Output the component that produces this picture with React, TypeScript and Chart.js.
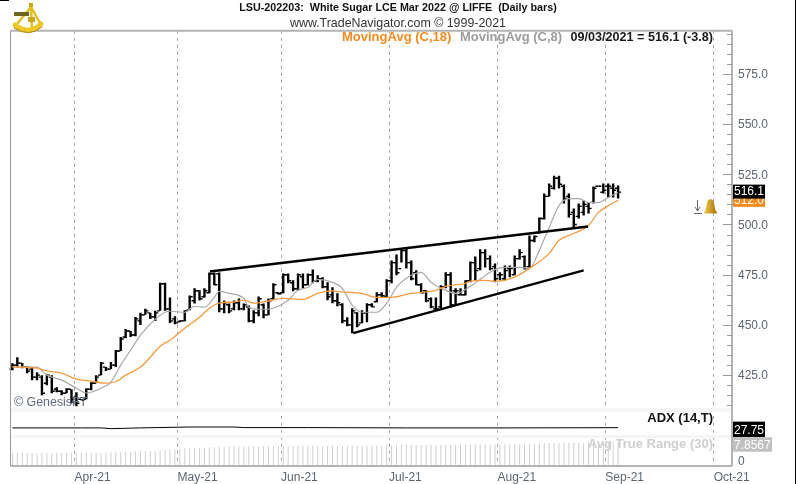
import React, { useEffect, useRef } from "react";
import { Chart, registerables } from "chart.js";

Chart.register(...registerables);

const titleText = "LSU-202203:  White Sugar LCE Mar 2022 @ LIFFE  (Daily bars)";
const subtitleText = "www.TradeNavigator.com © 1999-2021";

const monthLabels = ["Apr-21", "May-21", "Jun-21", "Jul-21", "Aug-21", "Sep-21", "Oct-21"];
const monthBarPositions = [12.63, 33.54, 54.56, 76.5, 98.5, 120.4, 142.4];
const priceTicks = [425, 450, 475, 500, 525, 550, 575];

const highs = [430.9,433.9,431,429.4,429,426.4,425,425.4,425,419,417.5,418.5,418,416.5,413,418.5,421.5,425,431.5,429,431.5,437.5,444,448,447,454,456,458,456,457,471,471,463.7,454.3,452.3,457.3,464.7,468.2,467.2,468.2,476.1,476.1,476.1,462.2,460.7,462.2,463.2,460.7,459.7,457.3,464.2,460.7,463.2,470.7,466.2,475.6,475.6,472.2,475.6,475.6,475.6,477.6,474.7,473.7,471.2,468.7,465.7,460.8,453.8,458.3,456.3,457.3,460.8,460.8,466.2,466.2,472.7,482.1,485.1,488.1,488.1,482.1,477.2,470.7,467.2,463.7,463.7,469.7,476.2,476.2,468.2,468.2,472.2,481.6,484.1,487.6,487.6,484.6,480.6,476.2,479.6,479.6,484.6,487.6,484.6,494.5,494.5,503.5,515.4,520.4,524.3,524.3,519.9,515.4,507.9,510.4,511.9,510.9,518.9,519.4,520.4,520.4,520.4,519.4];
const lows = [427.4,428.9,428.4,426,422.5,422.5,415,420,416,416.5,415,416,411,409.5,412.5,413,417.5,421,425,427,428,429,437,443.4,444,444.4,450,455,453,452,457,457,451,450.3,451.3,451.8,457.3,460.7,462.2,463.7,465.7,469.7,456.3,455.8,455.8,457.3,457.3,457.3,451.3,450.8,454.3,453.3,454.8,462.7,465.2,465.7,470.7,466.7,467.2,468.2,469.7,470.7,471.2,468.2,462.3,460.8,459.3,450.8,449.3,445.9,448.8,450.8,451.3,458.8,461.3,463.7,463.7,470.7,474.7,481.1,478.1,472.2,469.7,465.7,461.3,458.3,457.3,458.3,468.2,458.8,459.8,464.7,464.7,471.2,472.2,477.2,478.6,477.2,471.2,472.2,472.2,473.7,474.7,482.6,477.6,478.6,491.1,495.5,502.5,513.9,517.4,517.9,510.4,503.5,498,503,504.5,505.5,510.4,518.9,515.4,513.4,513.4,512.9];
const opens = [428,430,431,429,428,424,424,421,424,418,417,416,418,414,413,413,418,421,425,429,428,430,437,444,447,445,452,455,456,454,457,470.5,458,453,451.5,452,457.5,462,467,464,466,475.5,475.5,458,460,458,461,458,459,452,456,460,455,463,466,466,475,471,468,474,470,475,472,473,469,465,462,460,452,450,456,451,456,460,461.5,465,464,472,481,478,487,481,476,470,467,463,458,459,469,475,467,465,465,472,481,478,486,483,479,475,473,478,475,483,484,479,492,496,503,514,518,523,519,514,506,504,506,509,511,519,516,519,518,518];
const closes = [430,431,429,427,424,425,416,425,417,417,416,418,413,411,412.5,418,421,424,431,428,430,437,443,447,445,453,455,457,454,456,470.5,458,452,451,452,457,464,467,463,467,475.5,470,458,461,457,461,458,460,452,456,463,455,462,470,465.5,475,472,468,475,470,475,472,473,469,464,462,461,452,450,457,450,456,460,459,465,464.5,472,481,476,487,481,473,470,466,462,459,458,469,475,460,467,465,472,481,477,486,483,478,473,475,477,478,483,486,478,492,494,503,514,519,523,520,513,505,500,509,510,508,518,519,517,519,517,516.1];

const ma18Bars = [0,5,7,10,13,16,19,21,23,26,28,30,32,35,38,40,42,45,47,49,52,55,59,62,65,67,71,74,77,81,84,86,88,92,93,96,98,102,105,109,111,114,117,119,121,123];
const ma18Values = [429.1,428.5,427.1,426,423,422,421,421.7,425,429,433.9,439.4,442.4,448.3,453.8,458.3,460.9,461.4,462.3,460.8,461.9,463.2,462.7,465.7,466.9,466.4,465.7,463.7,463.7,465.7,466.4,467.2,469.2,470.7,471.8,472.2,471.7,473.8,478.1,485.6,492.1,495.5,499.5,506,509.4,512];
const ma8Bars = [0,5,7,10,13,15,18,20,22,24,26,29,31,32,35,37,39,41,42,44,47,48,50,52,54,56,58,60,62,65,67,69,71,74,76,78,81,83,85,88,90,93,95,98,100,103,105,107,109,111,113,115,117,119,121,123];
const ma8Values = [429.1,429,425,422.5,418.5,416.1,418.5,421.5,430,437.4,444.9,452.8,456.3,456.8,456.3,459.3,458.8,463.7,466.7,465.7,463.2,458.8,457.8,457.8,459.3,462.3,467.2,468.7,472.7,471.2,468.2,459.8,456.3,456.3,460.8,468.7,474.7,476.2,471.2,467.2,465.7,469.2,472.7,477.6,478.6,478.6,478.1,487.1,498.5,509.4,512.9,512.9,510.9,510.9,513.4,515.9];

const upperTrendBars = [40.1, 116.9];
const upperTrendPrices = [476.6, 499];
const lowerTrendBars = [69.2, 116];
const lowerTrendPrices = [445.9, 477.1];

const adxBars = [0,14,18,20,26,36,45,47,60,80,100,123];
const adxValues = [27,27,27,24.5,27,30,30,28,28,27,27,27.75];

const atrValues = [4.3,4.3,4.3,4.3,4.3,4.3,4.3,4.3,4.3,4.3,4.3,4.4,4.4,4.4,4.4,4.4,4.4,4.4,4.4,4.5,4.5,4.6,4.7,4.8,4.8,4.9,4.9,5,5,5.1,5.3,5.4,5.6,5.7,5.8,5.9,6,6,6.1,6.1,6.2,6.3,6.4,6.4,6.5,6.5,6.5,6.5,6.5,6.6,6.6,6.6,6.6,6.7,6.7,6.7,6.7,6.7,6.7,6.7,6.7,6.7,6.7,6.7,6.7,6.7,6.7,6.8,6.8,6.8,6.8,6.8,6.8,6.8,6.8,6.8,6.9,6.9,6.9,7,7,7,7,7,7,7,7,7,7.1,7.1,7.1,7.1,7.1,7.1,7.2,7.2,7.2,7.2,7.2,7.2,7.3,7.3,7.3,7.3,7.3,7.4,7.4,7.5,7.6,7.7,7.7,7.7,7.8,7.8,7.8,7.8,7.8,7.8,7.8,7.8,7.8,7.8,7.85,7.8567];

const lastClose = 516.1;
const lastMa18 = 512.0;
const lastAdx = 27.75;
const lastAtr = 7.8567;
const plotLeftBar = -0.57;
const legendEntries = ["MovingAvg (C,18)", "MovingAvg (C,8)", "09/03/2021 = 516.1 (-3.8)"];

const FONT = '"Liberation Sans", Arial, sans-serif';
const AXIS_GREY = "#b4b4b4";
const LABEL = "#5d6570";
const ORANGE = "#f58a1f";

function zip(xs: number[], ys: number[], dx = 0) {
  return xs.map((x, i) => ({ x: x + dx, y: ys[i] }));
}

function drawSextant(c: CanvasRenderingContext2D) {
  c.save();
  c.lineCap = "round";
  c.strokeStyle = "#e2bd22";
  c.lineWidth = 2.4;
  c.beginPath();
  c.moveTo(31, 7);
  c.lineTo(17, 24);
  c.moveTo(31, 7);
  c.lineTo(40, 23);
  c.moveTo(31, 5);
  c.lineTo(32, 31);
  c.stroke();
  c.lineWidth = 5;
  c.strokeStyle = "#ecc728";
  c.beginPath();
  c.moveTo(15, 25);
  c.quadraticCurveTo(29, 36, 41, 24);
  c.stroke();
  c.lineWidth = 1;
  c.strokeStyle = "#a5861a";
  c.beginPath();
  c.moveTo(14, 28);
  c.quadraticCurveTo(29, 38, 42, 27);
  c.stroke();
  c.fillStyle = "#6f6420";
  c.fillRect(14, 12, 15, 4);
  c.fillStyle = "#c9a81e";
  c.fillRect(29, 3, 4, 4);
  c.fillRect(28, 17, 7, 5);
  c.restore();
}

function drawBell(c: CanvasRenderingContext2D) {
  c.save();
  c.strokeStyle = "#666666";
  c.lineWidth = 1;
  c.beginPath();
  c.moveTo(697.5, 200);
  c.lineTo(697.5, 211);
  c.moveTo(695, 207);
  c.lineTo(697.5, 211);
  c.lineTo(700, 207);
  c.moveTo(694, 213.5);
  c.lineTo(702, 213.5);
  c.stroke();
  const g = c.createLinearGradient(704, 0, 717, 0);
  g.addColorStop(0, "#f3c84b");
  g.addColorStop(1, "#a86f0c");
  c.fillStyle = g;
  c.beginPath();
  c.moveTo(710.5, 199);
  c.quadraticCurveTo(714.5, 200, 714.5, 206);
  c.quadraticCurveTo(715, 211, 717.5, 213.5);
  c.lineTo(703.5, 213.5);
  c.quadraticCurveTo(706, 211, 706.5, 206);
  c.quadraticCurveTo(706.5, 200, 710.5, 199);
  c.fill();
  c.restore();
}

const chartDecorations = {
  id: "chartDecorations",
  beforeDatasetsDraw(chart: any) {
    const c = chart.ctx as CanvasRenderingContext2D;
    const { right } = chart.chartArea;
    const { x, yAdx, yAtr } = chart.scales;
    const left = x.getPixelForValue(plotLeftBar);
    c.save();
    c.fillStyle = "#f5f5f5";
    c.fillRect(left, yAdx.top - 2, right - left, 4);
    c.fillRect(left, yAtr.top - 1, right - left, 3);
    c.restore();
  },
  afterDraw(chart: any) {
    const c = chart.ctx as CanvasRenderingContext2D;
    const { right, top, bottom } = chart.chartArea;
    const { x, y, yAdx, yAtr } = chart.scales;
    const left = Math.round(x.getPixelForValue(plotLeftBar)) + 0.5;
    c.save();
    // frame
    c.strokeStyle = AXIS_GREY;
    c.lineWidth = 2;
    c.beginPath();
    c.moveTo(left, top);
    c.lineTo(right, top);
    c.moveTo(right, top);
    c.lineTo(right, bottom);
    c.moveTo(left, bottom);
    c.lineTo(right, bottom);
    c.stroke();
    c.lineWidth = 1;
    c.strokeStyle = "#9a9a9a";
    c.beginPath();
    c.moveTo(left, top);
    c.lineTo(left, bottom);
    c.stroke();

    // inside tick marks
    c.strokeStyle = "#9a9a9a";
    c.lineWidth = 1;
    c.beginPath();
    for (let v = 410; v <= 595; v += 5) {
      const py = Math.round(y.getPixelForValue(v)) + 0.5;
      c.moveTo(right - (v % 25 === 0 ? 9 : 5), py);
      c.lineTo(right, py);
    }
    c.stroke();

    // legend
    c.textBaseline = "middle";
    c.textAlign = "left";
    c.font = `bold 13px ${FONT}`;
    c.fillStyle = ORANGE;
    c.fillText(legendEntries[0], 342, 37.5);
    c.fillStyle = "#9b9b9b";
    c.fillText(legendEntries[1], 460, 37.5);
    c.fillStyle = "#1a1a1a";
    c.textAlign = "right";
    c.font = `bold 12.6px ${FONT}`;
    c.fillText(legendEntries[2], 713, 37.5);

    // copyright and panel names
    c.textAlign = "left";
    c.font = `12.4px ${FONT}`;
    c.fillStyle = "#5f6b7a";
    c.fillText("© GenesisFT", 14, 403);
    c.textAlign = "right";
    c.font = `bold 13px ${FONT}`;
    c.fillStyle = "#111111";
    c.fillText("ADX (14,T)", 713, 418);
    c.fillStyle = "#cfcfcf";
    c.fillText("Avg True Range (30)", 713, 444);

    // value boxes
    c.font = `12px ${FONT}`;
    c.textAlign = "left";
    const box = (yc: number, h: number, w: number, bg: string, text: string, fg: string, dy = 0.5) => {
      c.fillStyle = bg;
      c.fillRect(right + 1, yc - h / 2, w, h);
      c.fillStyle = fg;
      c.fillText(text, right + 2, yc + dy);
    };
    box(y.getPixelForValue(lastMa18), 13, 32, ORANGE, lastMa18.toFixed(1), "#ffffff");
    box(y.getPixelForValue(lastClose) - 0.5, 14, 32, "#000000", lastClose.toFixed(1), "#ffffff");
    box(yAdx.getPixelForValue(lastAdx) + 1.7, 15.5, 32, "#000000", lastAdx.toFixed(2), "#ffffff", 1);
    box(yAtr.getPixelForValue(lastAtr) + 2, 14.5, 39, "#c0c0c0", lastAtr.toFixed(4), "#ffffff", 1);
    c.fillStyle = LABEL;
    c.fillText("0", 738, 461.5);

    drawSextant(c);
    drawBell(c);

    // screenshot edge marks
    c.fillStyle = "#000000";
    c.fillRect(0, 0, 9, 1);
    c.fillRect(795, 0, 1, 484);
    c.restore();
  },
};

const sideWidth = (scale: any) => {
  scale.width = 64;
};

export default function App() {
  const ref = useRef<HTMLCanvasElement | null>(null);
  useEffect(() => {
    document.body.style.margin = "0";
    document.body.style.background = "#ffffff";
    const barIdx = highs.map((_, i) => i);
    const chart = new Chart(ref.current as HTMLCanvasElement, {
      type: "bar",
      data: {
        datasets: [
          {
            type: "bar",
            data: atrValues.map((v, i) => ({ x: i, y: v })),
            yAxisID: "yAtr",
            backgroundColor: "#cfcfcf",
            barThickness: 1,
            inflateAmount: 0,
            grouped: false,
            order: 6,
          },
          {
            type: "line",
            data: zip(adxBars, adxValues),
            yAxisID: "yAdx",
            borderColor: "#000000",
            borderWidth: 1,
            pointRadius: 0,
            order: 5,
          },
          {
            type: "bar",
            data: barIdx.map((i) => ({ x: i, y: [lows[i], highs[i]] })),
            yAxisID: "y",
            backgroundColor: "#000000",
            barThickness: 2.4,
            inflateAmount: 0,
            grouped: false,
            order: 4,
          },
          {
            type: "line",
            data: zip(barIdx, opens, -0.35),
            yAxisID: "y",
            showLine: false,
            pointStyle: "line",
            pointRadius: 1.3,
            pointBorderWidth: 1.4,
            pointBorderColor: "#000000",
            order: 4,
          },
          {
            type: "line",
            data: zip(barIdx, closes, 0.35),
            yAxisID: "y",
            showLine: false,
            pointStyle: "line",
            pointRadius: 1.3,
            pointBorderWidth: 1.4,
            pointBorderColor: "#000000",
            order: 4,
          },
          {
            type: "line",
            data: zip(ma8Bars, ma8Values),
            yAxisID: "y",
            borderColor: "#a8a8a8",
            borderWidth: 1.2,
            cubicInterpolationMode: "monotone",
            pointRadius: 0,
            order: 2,
          },
          {
            type: "line",
            data: zip(ma18Bars, ma18Values),
            yAxisID: "y",
            borderColor: "#f79a3e",
            borderWidth: 1.3,
            cubicInterpolationMode: "monotone",
            pointRadius: 0,
            order: 1,
          },
          {
            type: "line",
            data: zip(upperTrendBars, upperTrendPrices),
            yAxisID: "y",
            borderColor: "#000000",
            borderWidth: 2.4,
            pointRadius: 0,
            order: 0,
          },
          {
            type: "line",
            data: zip(lowerTrendBars, lowerTrendPrices),
            yAxisID: "y",
            borderColor: "#000000",
            borderWidth: 2.4,
            pointRadius: 0,
            order: 0,
          },
        ],
      } as any,
      options: {
        responsive: false,
        animation: false,
        layout: { padding: 0 },
        plugins: {
          legend: { display: false },
          tooltip: { enabled: false },
          title: {
            display: true,
            text: titleText,
            color: "#111111",
            font: { family: FONT, size: 10.75, weight: "bold" },
            padding: { top: 1.5, bottom: 1.5 },
          },
          subtitle: {
            display: true,
            text: subtitleText,
            color: "#333333",
            font: { family: FONT, size: 12.4, weight: "normal" },
            padding: { top: 0, bottom: 0 },
          },
        },
        scales: {
          x: {
            type: "linear",
            min: -1.42,
            max: 146.13,
            offset: false,
            afterBuildTicks: (s: any) => {
              s.ticks = monthBarPositions.map((v) => ({ value: v }));
            },
            afterFit: (s: any) => {
              s.height = 18;
            },
            grid: { color: "#a2a2a2", offset: false, drawTicks: false, lineWidth: 1 },
            border: { display: false, dash: [3, 4] },
            ticks: {
              align: "start",
              autoSkip: false,
              maxRotation: 0,
              padding: 4,
              color: LABEL,
              font: { family: FONT, size: 12 },
              callback: (_: any, i: number) => monthLabels[i],
            },
          },
          y: {
            type: "linear",
            position: "right",
            stack: "panels",
            stackWeight: 380,
            weight: 0,
            min: 407.6,
            max: 596.4,
            afterBuildTicks: (s: any) => {
              s.ticks = priceTicks.map((v) => ({ value: v }));
            },
            afterFit: sideWidth,
            grid: { display: false, drawTicks: false },
            border: { display: false },
            ticks: {
              padding: 6,
              labelOffset: 1,
              color: LABEL,
              font: { family: FONT, size: 12 },
              callback: (v: any) => Number(v).toFixed(1),
            },
          },
          yAdx: {
            type: "linear",
            position: "right",
            stack: "panels",
            stackWeight: 26,
            weight: 1,
            min: 0,
            max: 86,
            afterFit: sideWidth,
            grid: { display: false, drawTicks: false },
            border: { display: false },
            ticks: { display: false },
          },
          yAtr: {
            type: "linear",
            position: "right",
            stack: "panels",
            stackWeight: 30,
            weight: 2,
            min: 0,
            max: 10,
            afterFit: sideWidth,
            grid: { display: false, drawTicks: false },
            border: { display: false },
            ticks: { display: false },
          },
        },
      } as any,
      plugins: [chartDecorations],
    });
    return () => chart.destroy();
  }, []);
  return <canvas ref={ref} width={796} height={484} style={{ display: "block", width: 796, height: 484 }} />;
}
